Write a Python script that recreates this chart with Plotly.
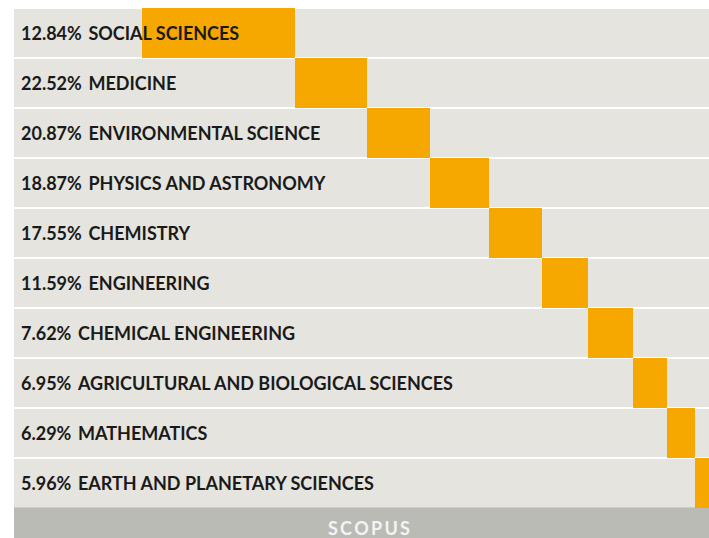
import plotly.graph_objects as go

# subject areas, top to bottom
subjects = [
    "SOCIAL SCIENCES",
    "MEDICINE",
    "ENVIRONMENTAL SCIENCE",
    "PHYSICS AND ASTRONOMY",
    "CHEMISTRY",
    "ENGINEERING",
    "CHEMICAL ENGINEERING",
    "AGRICULTURAL AND BIOLOGICAL SCIENCES",
    "MATHEMATICS",
    "EARTH AND PLANETARY SCIENCES",
]
shares = [12.84, 22.52, 20.87, 18.87, 17.55, 11.59, 7.62, 6.95, 6.29, 5.96]

# orange step blocks (0-100 scale across the panel)
block_start = [18.35, 40.45, 50.8, 59.9, 68.35, 75.95, 82.6, 89.05, 94.0, 98.0]
block_width = [22.1, 10.35, 9.1, 8.45, 7.6, 6.65, 6.45, 4.95, 4.0, 3.0]

source = "SCOPUS"

ROW_GREY = "#E5E4DE"
ORANGE = "#F6A800"
FOOT_GREY = "#BBBBB6"

rows = list(range(len(subjects)))

fig = go.Figure()

# grey row backgrounds
fig.add_trace(go.Bar(
    y=rows,
    x=[110] * len(rows),
    base=0,
    orientation="h",
    width=0.97,
    marker=dict(color=ROW_GREY, line=dict(width=0)),
    hoverinfo="skip",
))

# orange blocks
fig.add_trace(go.Bar(
    y=rows,
    x=block_width,
    base=block_start,
    orientation="h",
    width=0.985,
    marker=dict(color=ORANGE, line=dict(width=0)),
    hoverinfo="skip",
))

# row labels
for i, (s, p) in enumerate(zip(subjects, shares)):
    fig.add_annotation(
        x=0, y=i, xref="x", yref="y",
        xanchor="left", yanchor="middle", xshift=5,
        text=f"<b>{p:.2f}%\u00a0\u2009{s}</b>",
        showarrow=False,
        font=dict(family="Lato", size=18, color="#1a1a1a"),
    )

# source strip at the bottom
fig.add_shape(
    type="rect", xref="paper", yref="y",
    x0=0, x1=1, y0=9.485, y1=10.3,
    fillcolor=FOOT_GREY, line=dict(width=0), layer="below",
)
fig.add_annotation(
    x=51.1, y=9.9, xref="x", yref="y",
    text="<b>" + "\u2009".join(source) + "</b>",
    showarrow=False,
    font=dict(family="Lato", size=18, color="#F4F4F2"),
)

fig.update_layout(
    width=709, height=538,
    margin=dict(l=14, r=0, t=8, b=0),
    barmode="overlay",
    bargap=0,
    showlegend=False,
    plot_bgcolor="white",
    paper_bgcolor="white",
    xaxis=dict(range=[0, 100], visible=False, fixedrange=True),
    yaxis=dict(range=[10.1, -0.5], visible=False, fixedrange=True),
)

# drop the default page margin so the figure fills the window exactly
fig.write_html(
    "out.html",
    config={"displayModeBar": False},
    post_script="document.body.style.margin='0';",
)
